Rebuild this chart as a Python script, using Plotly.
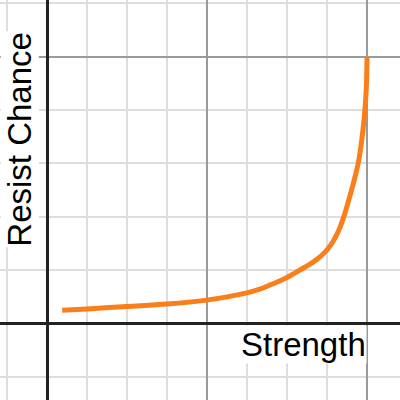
import plotly.graph_objects as go

# Values (x grid: minor 0.5 / major 2; y grid: minor 0.2 / major 1)
strength = [0.19, 0.50, 1.00, 1.50, 2.00, 2.25, 2.50, 2.65, 2.79, 3.00, 3.1625, 3.2875,
            3.3875, 3.475, 3.55, 3.6125, 3.6625, 3.7125, 3.7625, 3.8125, 3.8625, 3.90,
            3.9375, 3.9625, 3.98, 3.994, 4.00]
resist_chance = [0.049, 0.054, 0.063, 0.072, 0.087, 0.099, 0.114, 0.127, 0.144, 0.172, 0.200,
                 0.222, 0.243, 0.267, 0.295, 0.327, 0.360, 0.402, 0.452, 0.506, 0.564, 0.616,
                 0.695, 0.763, 0.826, 0.901, 1.00]

x_label = "Strength"
y_label = "Resist Chance"

fig = go.Figure()
fig.add_trace(go.Scatter(
    x=strength, y=resist_chance, mode="lines",
    line=dict(color="#fa7e19", width=5, shape="spline", smoothing=1.0, simplify=False),
    hoverinfo="skip", showlegend=False,
))

axis_common = dict(
    showticklabels=False, ticks="", showline=False,
    zeroline=True, zerolinecolor="#222222", zerolinewidth=3,
    gridcolor="#9a9a9a", gridwidth=2, showgrid=True,
    fixedrange=True,
)

fig.update_xaxes(range=[-0.5875, 4.4125], dtick=2, tick0=0,
                 minor=dict(dtick=0.5, tick0=0, showgrid=True, gridcolor="#dddddd", gridwidth=1.5),
                 **axis_common)
fig.update_yaxes(range=[-0.2877, 1.2127], dtick=1, tick0=0,
                 minor=dict(dtick=0.2, tick0=0, showgrid=True, gridcolor="#dddddd", gridwidth=1.5),
                 **axis_common)

font = dict(family="Liberation Sans, Arial, sans-serif", size=33, color="#000000")
fig.add_annotation(text=x_label, x=4.0, y=0, xref="x", yref="y",
                   xanchor="right", yanchor="top", yshift=-2, showarrow=False,
                   font=font, bgcolor="white", borderpad=0)
fig.add_annotation(text=y_label, x=0, y=1.0, xref="x", yref="y",
                   xanchor="right", yanchor="top", xshift=-8, yshift=26, textangle=-90,
                   showarrow=False, font=font, bgcolor="white", borderpad=0)

fig.update_layout(width=400, height=400, margin=dict(l=0, r=0, t=0, b=0),
                  plot_bgcolor="white", paper_bgcolor="white")

fig.write_html("out.html", config=dict(displayModeBar=False),
               post_script="document.body.style.margin='0';document.body.style.padding='0';")
